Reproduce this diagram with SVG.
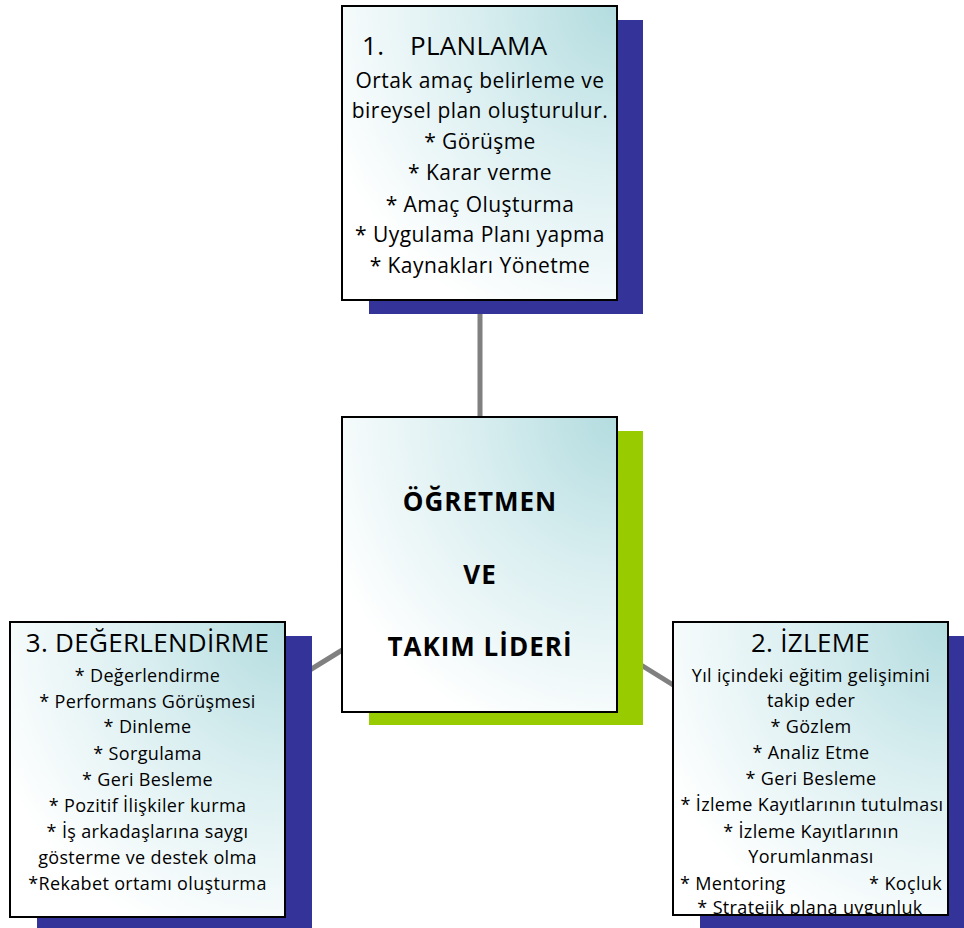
<svg xmlns="http://www.w3.org/2000/svg" width="964" height="928" viewBox="0 0 964 928">
<style>
.box{fill:url(#g);stroke:#000;stroke-width:2}
.sb{fill:#333399}
.sg{fill:#99cc00}
.t{font-family:"Open Sans","Liberation Sans",sans-serif;fill:#000;text-anchor:middle}
.h{font-size:26px;letter-spacing:0.3px}
.b1{font-size:21px;letter-spacing:0.45px}
.b2{font-size:18px;letter-spacing:0.35px}
.c{stroke:#808080;stroke-width:5;fill:none}
</style>
<defs>
<radialGradient id="g" cx="1" cy="0" r="1.15" fx="1" fy="0">
<stop offset="0" stop-color="#b3dcdf"/>
<stop offset="0.45" stop-color="#d9eef0"/>
<stop offset="1" stop-color="#ffffff"/>
</radialGradient>
<clipPath id="cr"><rect x="673" y="622" width="275" height="292"/></clipPath>
</defs>
<g id="connectors">
<line class="c" x1="480" y1="300" x2="480" y2="565"/>
<line class="c" x1="480" y1="565" x2="148" y2="770"/>
<line class="c" x1="480" y1="565" x2="810" y2="770"/>
</g>
<g id="planlama">
<rect class="sb" x="369" y="20" width="274" height="294"/>
<rect class="box" x="342" y="6" width="275" height="294"/>
<text class="t h" style="text-anchor:start" x="362" y="55">1.</text>
<text class="t h" style="text-anchor:start" x="410" y="55">PLANLAMA</text>
<g class="t b1">
<text x="480" y="88">Ortak amaç belirleme ve</text>
<text x="480" y="118">bireysel plan oluşturulur.</text>
<text x="480" y="149">* Görüşme</text>
<text x="480" y="180">* Karar verme</text>
<text x="480" y="212">* Amaç Oluşturma</text>
<text x="480" y="242">* Uygulama Planı yapma</text>
<text x="480" y="273">* Kaynakları Yönetme</text>
</g>
</g>
<g id="merkez">
<rect class="sg" x="369" y="431" width="274" height="294"/>
<rect class="box" x="342" y="417" width="275" height="295"/>
<g class="t" font-size="26" font-weight="bold" letter-spacing="1">
<text x="480" y="511">ÖĞRETMEN</text>
<text x="480" y="584">VE</text>
<text x="480" y="656">TAKIM LİDERİ</text>
</g>
</g>
<g id="degerlendirme">
<rect class="sb" x="37" y="636" width="275" height="292"/>
<rect class="box" x="10" y="622" width="275" height="295"/>
<text class="t h" x="147.5" y="652">3. DEĞERLENDİRME</text>
<g class="t b2">
<text x="147.5" y="682">* Değerlendirme</text>
<text x="147.5" y="708">* Performans Görüşmesi</text>
<text x="147.5" y="733">* Dinleme</text>
<text x="147.5" y="760">* Sorgulama</text>
<text x="147.5" y="786">* Geri Besleme</text>
<text x="147.5" y="812">* Pozitif İlişkiler kurma</text>
<text x="147.5" y="838">* İş arkadaşlarına saygı</text>
<text x="147.5" y="864">gösterme ve destek olma</text>
<text x="147.5" y="890">*Rekabet ortamı oluşturma</text>
</g>
</g>
<g id="izleme">
<rect class="sb" x="700" y="636" width="264" height="292"/>
<rect class="box" x="673" y="622" width="275" height="293"/>
<text class="t h" x="810.5" y="652">2. İZLEME</text>
<g class="t b2" clip-path="url(#cr)">
<text x="811" y="682">Yıl içindeki eğitim gelişimini</text>
<text x="811" y="707">takip eder</text>
<text x="811" y="733">* Gözlem</text>
<text x="811" y="759">* Analiz Etme</text>
<text x="811" y="785">* Geri Besleme</text>
<text x="812" y="811">* İzleme Kayıtlarının tutulması</text>
<text x="811" y="838">* İzleme Kayıtlarının</text>
<text x="811" y="863">Yorumlanması</text>
<text x="680" y="890" style="text-anchor:start">* Mentoring</text>
<text x="942" y="890" style="text-anchor:end">* Koçluk</text>
<text x="810" y="914">* Stratejik plana uygunluk</text>
</g>
</g>
</svg>
